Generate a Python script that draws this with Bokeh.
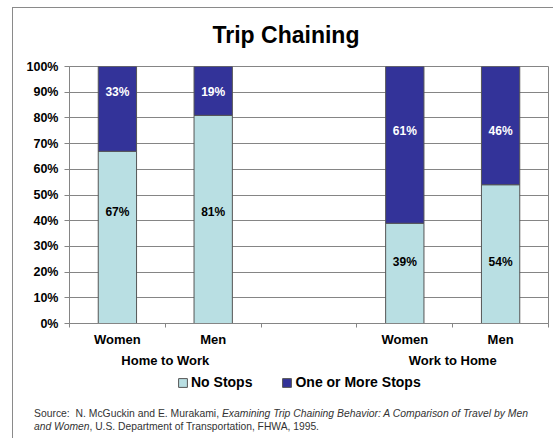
import subprocess
from bokeh.plotting import figure
from bokeh.layouts import column
from bokeh.models import (Range1d, FixedTicker, PrintfTickFormatter, LinearAxis,
                          Legend, LegendItem, ColumnDataSource, Div, InlineStyleSheet)
from bokeh.core.properties import value
from bokeh.embed import file_html
from bokeh.resources import INLINE

# ---- data ----
bar_pos = [0, 2, 6, 8]
bar_names = ["Women", "Men", "Women", "Men"]
group_pos = [1, 7]
group_names = ["Home to Work", "Work to Home"]
no_stops = [67, 81, 39, 54]
one_or_more = [33, 19, 61, 46]
y_ticks = [0, 10, 20, 30, 40, 50, 60, 70, 80, 90, 100]
series_names = ["No Stops", "One or More Stops"]
title_text = "Trip Chaining"
source_line1_plain = "Source:&#160; N. McGuckin and E. Murakami, "
source_line1_italic = "Examining Trip Chaining Behavior: A Comparison of Travel by Men"
source_line2_italic = "and Women"
source_line2_plain = ", U.S. Department of Transportation, FHWA, 1995."

# label placement (layout only)
light_label_y = [43.5, 43.5, 24, 24]
dark_label_y = [90, 90, 75, 75]

try:
    fl = subprocess.run(["fc-list"], capture_output=True, text=True).stdout
except Exception:
    fl = ""
HAS_NARROW = "Liberation Sans Narrow" in fl
SANS = "Liberation Sans"
TITLE_FONT = "Liberation Sans Narrow" if HAS_NARROW else SANS

W, H = 553, 438
FL, FT, FR, FB = 69, 66, 548, 324   # plot frame edges in page pixels
PH = 370                            # main figure height
LH = 24                             # legend strip height
LIGHT = "#B9DFE3"
DARK = "#333399"
GRID = "#858585"
EDGE = "#555555"

p = figure(width=W, height=PH, x_range=Range1d(-1, 9), y_range=Range1d(0, 100),
           output_backend="svg", toolbar_location=None,
           min_border_left=FL, min_border_right=W - FR, min_border_top=FT,
           min_border_bottom=PH - FB)
p.outline_line_color = GRID
p.outline_line_width = 1
p.background_fill_color = "white"
p.border_fill_color = "white"

# title
p.title.text = title_text
p.title.text_font = TITLE_FONT
p.title.text_font_style = "bold"
p.title.text_font_size = "27px" if HAS_NARROW else "23px"
p.title.align = "left"
p.title.offset = 143
p.title.vertical_align = "bottom"
p.title.standoff = 38
p.title.text_color = "black"

src = ColumnDataSource(dict(x=bar_pos, no=no_stops, more=one_or_more))
rs = p.vbar_stack(["no", "more"], x="x", width=0.8, source=src,
                  fill_color=[LIGHT, DARK], line_color=EDGE, line_width=1)

# value labels
p.text(x=bar_pos, y=light_label_y, text=[f"{v}%" for v in no_stops],
       text_font=value(SANS), text_font_style="bold", text_font_size="12px",
       text_color="black", text_align="center", text_baseline="middle")
p.text(x=bar_pos, y=dark_label_y, text=[f"{v}%" for v in one_or_more],
       text_font=value(SANS), text_font_style="bold", text_font_size="12px",
       text_color="white", text_align="center", text_baseline="middle")

# category axis
xa = p.xaxis[0]
xa.ticker = FixedTicker(ticks=bar_pos, minor_ticks=[-1, 1, 3, 5, 7, 9])
xa.major_label_overrides = {k: v for k, v in zip(bar_pos, bar_names)}
xa.major_tick_line_color = None
xa.minor_tick_line_color = GRID
xa.minor_tick_out = 4
xa.minor_tick_in = 0
xa.axis_line_color = GRID
xa.major_label_standoff = 2
xa.major_label_text_font = SANS
xa.major_label_text_font_style = "bold"
xa.major_label_text_font_size = "13px"
xa.major_label_text_color = "black"

# group axis
ga = LinearAxis(ticker=FixedTicker(ticks=group_pos, minor_ticks=[]),
                major_label_overrides={k: v for k, v in zip(group_pos, group_names)},
                axis_line_color=None, major_tick_line_color=None, minor_tick_line_color=None,
                major_tick_out=0, major_tick_in=0, major_label_standoff=3,
                major_label_text_font=SANS, major_label_text_font_style="bold",
                major_label_text_font_size="13px", major_label_text_color="black")
p.add_layout(ga, "below")

ya = p.yaxis[0]
ya.ticker = FixedTicker(ticks=y_ticks, minor_ticks=[])
ya.formatter = PrintfTickFormatter(format="%d%%")
ya.major_tick_out = 5
ya.major_tick_in = 0
ya.major_tick_line_color = GRID
ya.axis_line_color = GRID
ya.major_label_standoff = 6
ya.major_label_text_font = SANS
ya.major_label_text_font_style = "bold"
ya.major_label_text_font_size = "12.5px"
ya.major_label_text_color = "black"

p.xgrid.grid_line_color = None
p.ygrid.grid_line_color = GRID
p.ygrid.grid_line_width = 1

# legend strip (own small figure; swatch renderers carry no drawable value)
lf = figure(width=W, height=LH, x_range=Range1d(0, 1), y_range=Range1d(0, 1),
            output_backend="svg", toolbar_location=None,
            x_axis_location=None, y_axis_location=None, min_border=0,
            min_border_left=0, min_border_right=0, min_border_top=0, min_border_bottom=0)
lf.outline_line_color = None
lf.grid.grid_line_color = None
lf.background_fill_color = "white"
lf.border_fill_color = "white"
lr = [lf.vbar(x=[0.5], top=[float("nan")], bottom=[float("nan")], width=0.1,
              fill_color=c, line_color=EDGE, line_width=1)
      for c in (LIGHT, DARK)]
legend = Legend(items=[LegendItem(label=series_names[0], renderers=[lr[0]]),
                       LegendItem(label=series_names[1], renderers=[lr[1]])],
                orientation="horizontal", location=(108, 4),
                glyph_width=11, glyph_height=11, label_standoff=3, spacing=29,
                padding=0, margin=0, border_line_color=None, background_fill_alpha=0,
                label_text_font=SANS, label_text_font_style="bold",
                label_text_font_size="14px", label_height=14, label_text_color="black")
lf.add_layout(legend)

# source note: one SVG text per line, italic runs as tspans, fitted to the reference width
FONT_ATTR = ('font-family="Liberation Sans, Arial, sans-serif" font-size="11" '
             'fill="#333333" lengthAdjust="spacingAndGlyphs"')
NH = H - PH - LH
note_html = (
    f'<svg width="{W}" height="{NH}" xmlns="http://www.w3.org/2000/svg" style="display:block">'
    f'<text x="34" y="23" textLength="494" {FONT_ATTR}>{source_line1_plain}'
    f'<tspan font-style="italic">{source_line1_italic}</tspan></text>'
    f'<text x="34" y="36" textLength="285" {FONT_ATTR}>'
    f'<tspan font-style="italic">{source_line2_italic}</tspan>{source_line2_plain}</text>'
    "</svg>"
)
note = Div(text=note_html, width=W, height=NH, margin=0)

frame_css = InlineStyleSheet(css="""
:host::after {
  content: "";
  position: absolute;
  left: 12px; top: 7px;
  width: 541px; height: 431px;
  box-sizing: border-box;
  border-left: 1.5px solid #8a8a8a;
  border-top: 1.5px solid #8a8a8a;
  pointer-events: none;
  z-index: 5;
}
""")

root = column(p, lf, note, spacing=0, margin=0, width=W, stylesheets=[frame_css])

open("out.html", "w").write(file_html(root, INLINE))
